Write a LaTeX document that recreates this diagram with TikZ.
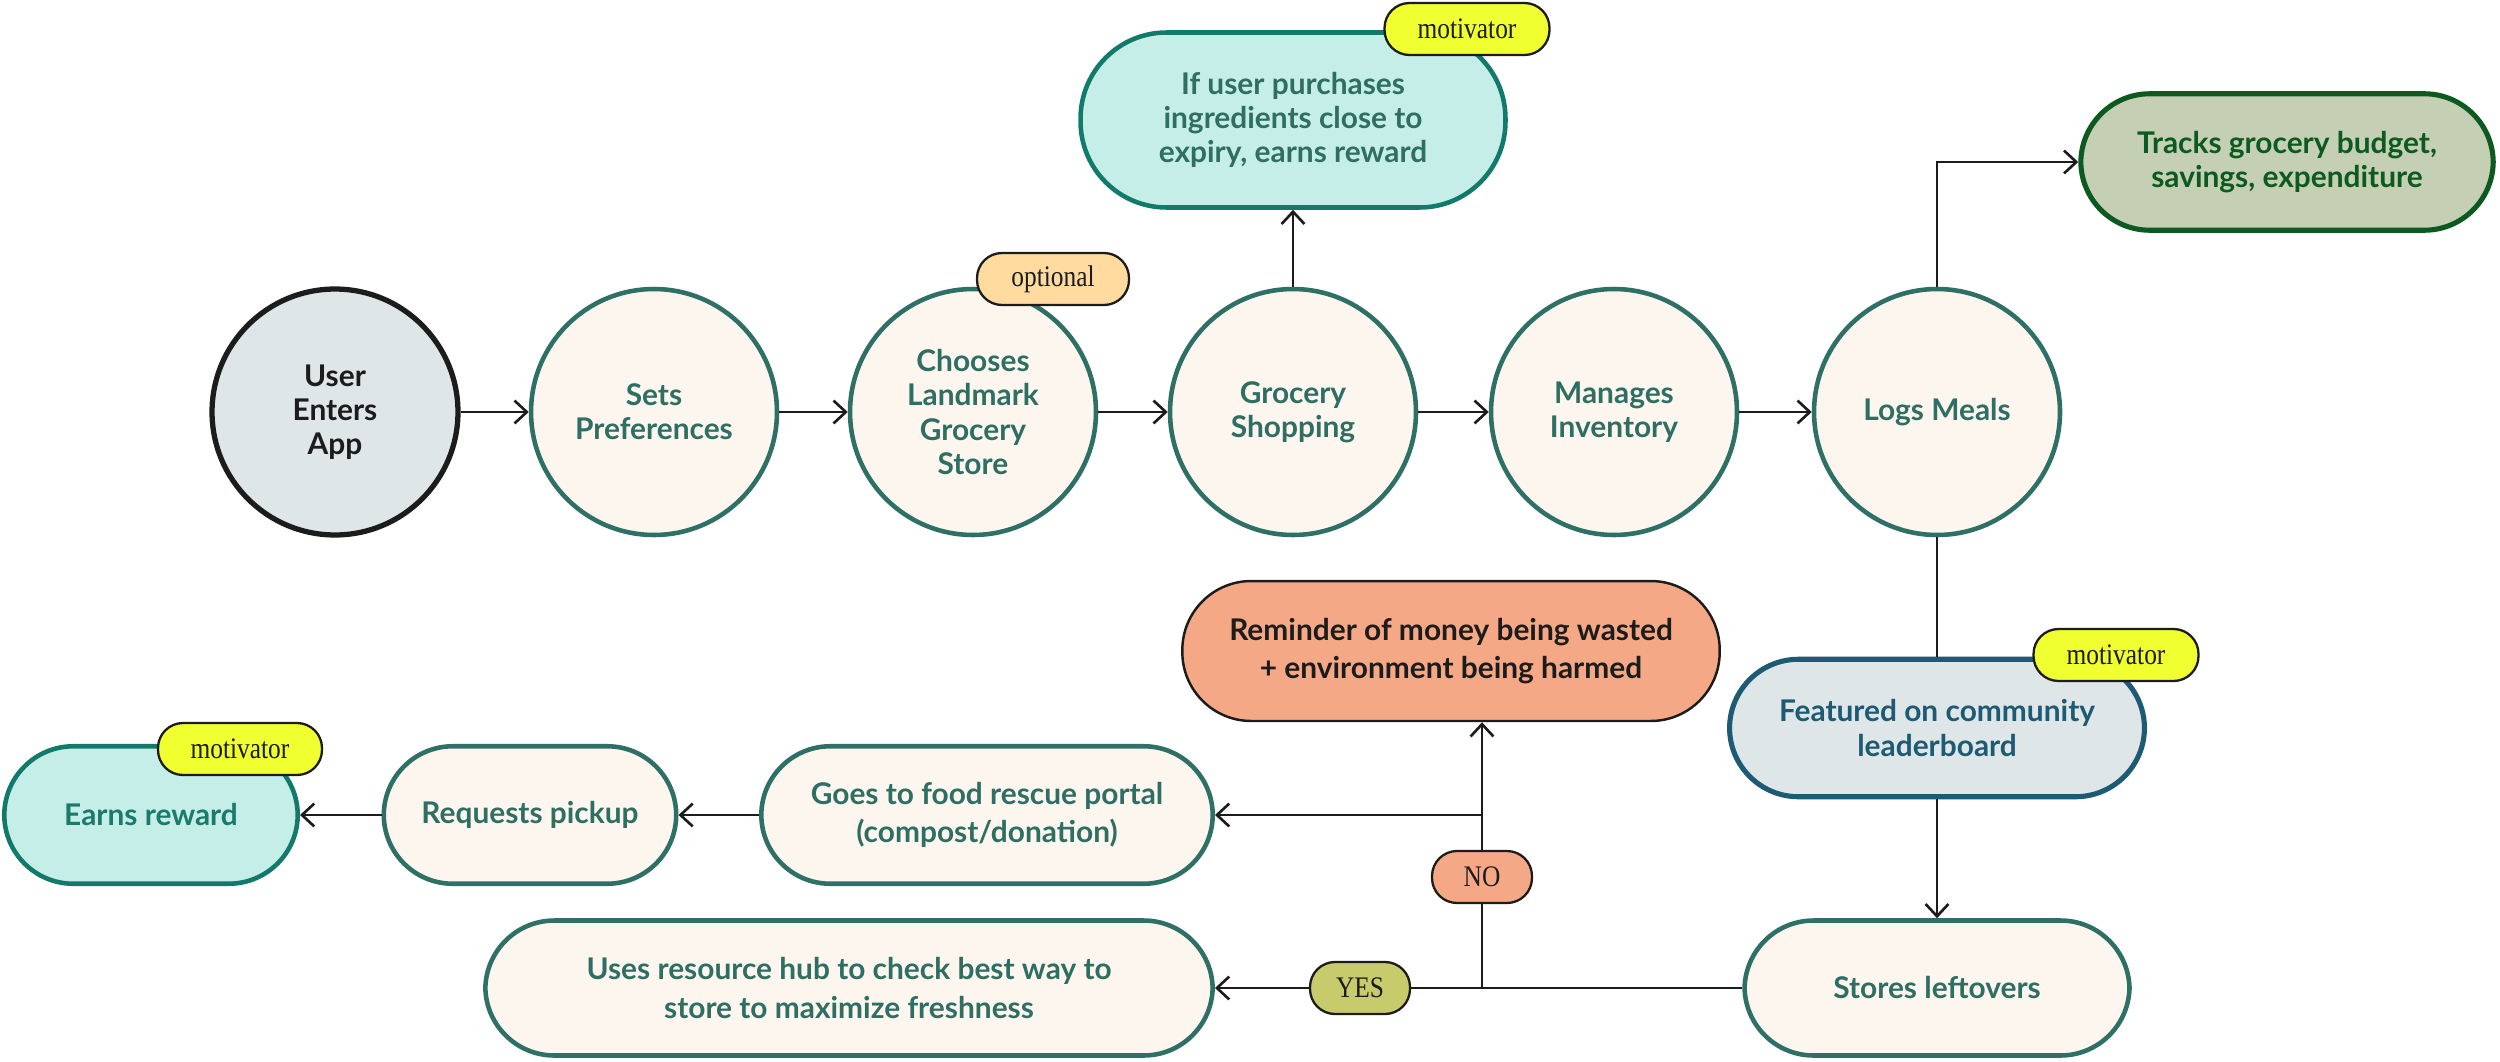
\documentclass[tikz,border=0pt]{standalone}
\usepackage{fontspec}
\setmainfont{Lato}
\newfontfamily\tagfont{Liberation Serif}[FakeStretch=0.85]
\usetikzlibrary{arrows.meta}
\definecolor{tealtxt}{HTML}{2E6E63}
\definecolor{tealbd}{HTML}{2F7066}
\definecolor{cream}{HTML}{FCF6EF}
\definecolor{greyfill}{HTML}{DFE6E8}
\definecolor{aqua}{HTML}{C5EEE8}
\definecolor{aquabd}{HTML}{127A6B}
\definecolor{aquatxt}{HTML}{1A7A6C}
\definecolor{sage}{HTML}{C4CFB4}
\definecolor{forest}{HTML}{0C5A1F}
\definecolor{bluebd}{HTML}{1D5A74}
\definecolor{salmon}{HTML}{F5A886}
\definecolor{lemon}{HTML}{F0FF30}
\definecolor{apricot}{HTML}{FFDBA0}
\definecolor{olive}{HTML}{C8CB6C}
\definecolor{ink}{HTML}{1C1C1C}
\begin{document}
\begin{tikzpicture}[x=0.02cm,y=-0.02cm,
  txt/.style={font=\fontsize{17}{19.5}\selectfont\bfseries, align=center, inner sep=0pt},
  circ/.style={txt, circle, draw=tealbd, fill=cream, line width=2.6pt, minimum size=4.92cm, text=tealtxt},
  pill/.style={txt, rectangle, rounded corners=1.38cm, draw=tealbd, fill=cream, line width=2.6pt, text=tealtxt},
  wide/.style={font=\fontsize{17}{22}\selectfont\bfseries},
  tag/.style={rectangle, rounded corners=0.5cm, draw=ink, line width=1.3pt, inner sep=0pt,
    font=\tagfont\fontsize{17}{18}\selectfont, minimum height=1.04cm, text=ink},
  arr/.style={draw=ink, line width=1.5pt, -{Straight Barb[length=7pt,width=13pt,line width=1.5pt]}},
  plain/.style={draw=ink, line width=1.5pt}]
\useasboundingbox (0,0) rectangle (2500,1061);
\fill[white] (0,0) rectangle (2500,1061);

% top row
\node[circ, draw=ink, fill=greyfill, text=ink, line width=3pt] (user) at (335,412) {User\\Enters\\App};
\node[circ] (prefs) at (654,412) {Sets\\Preferences};
\node[circ] (choose) at (973,412) {Chooses\\Landmark\\Grocery\\Store};
\node[circ] (grocery) at (1293,412) {Grocery\\Shopping};
\node[circ] (inventory) at (1614,412) {Manages\\Inventory};
\node[circ] (logs) at (1937,412) {Logs Meals};

% upper pills
\node[pill, fill=aqua, draw=aquabd, rounded corners=1.72cm, minimum width=8.5cm, minimum height=3.5cm] (top) at (1293,120) {If user purchases\\ingredients close to\\expiry, earns reward};
\node[pill, fill=sage, draw=forest, text=forest, line width=2.9pt, minimum width=8.25cm, minimum height=2.73cm] (tracks) at (2287,162) {Tracks grocery budget,\\savings, expenditure};

% right column
\node[pill, fill=greyfill, draw=bluebd, text=bluebd, line width=2.9pt, minimum width=8.3cm, minimum height=2.75cm] (featured) at (1937,728) {Featured on community\\leaderboard};
\node[pill, minimum width=7.7cm, minimum height=2.7cm] (stores) at (1937,988) {Stores leftovers};

% middle
\node[pill, wide, fill=salmon, draw=ink, text=ink, line width=1.4pt, minimum width=10.75cm, minimum height=2.8cm] (reminder) at (1451,651) {Reminder of money being wasted\\+ environment being harmed};
\node[pill, wide, minimum width=14.55cm, minimum height=2.7cm] (uses) at (849,988) {Uses resource hub to check best way to\\store to maximize freshness};
\node[pill, wide, minimum width=9.03cm, minimum height=2.75cm] (goes) at (987,815) {Goes to food rescue portal\\(compost/donation)};
\node[pill, minimum width=5.85cm, minimum height=2.75cm] (requests) at (530,815) {Requests pickup};
\node[pill, fill=aqua, draw=aquabd, text=aquatxt, minimum width=5.87cm, minimum height=2.75cm] (earns) at (151,815) {Earns reward};

% connectors
\draw[arr] (user) -- (prefs);
\draw[arr] (prefs) -- (choose);
\draw[arr] (choose) -- (grocery);
\draw[arr] (grocery) -- (inventory);
\draw[arr] (inventory) -- (logs);
\draw[arr] (grocery.north) -- (top.south);
\draw[arr] (logs.north) |- (tracks.west);
\draw[plain] (logs.south) -- (featured.north);
\draw[arr] (featured.south) -- (stores.north);

\coordinate (j) at (1482,988);
\coordinate (b) at (1482,815);
\node[tag, fill=olive, minimum width=2.0cm] (yes) at (1360,988) {YES};
\node[tag, fill=salmon, minimum width=2.0cm] (no) at (1482,877) {NO};
\draw[plain] (stores.west) -- (yes.east);
\draw[arr] (yes.west) -- (uses.east);
\draw[plain] (j) -- (no.south);
\draw[arr] (no.north) -- (no.north |- reminder.south);
\draw[arr] (b) -- (goes.east);
\draw[arr] (goes.west) -- (requests.east);
\draw[arr] (requests.west) -- (earns.east);

% tags
\node[tag, fill=lemon, minimum width=3.3cm] (mot1) at (1467,29) {motivator};
\node[tag, fill=apricot, minimum width=3.04cm] (opt) at (1053,279) {optional};
\node[tag, fill=lemon, minimum width=3.3cm] (mot2) at (2116,655) {motivator};
\node[tag, fill=lemon, minimum width=3.28cm] (mot3) at (240,749) {motivator};
\end{tikzpicture}
\end{document}
